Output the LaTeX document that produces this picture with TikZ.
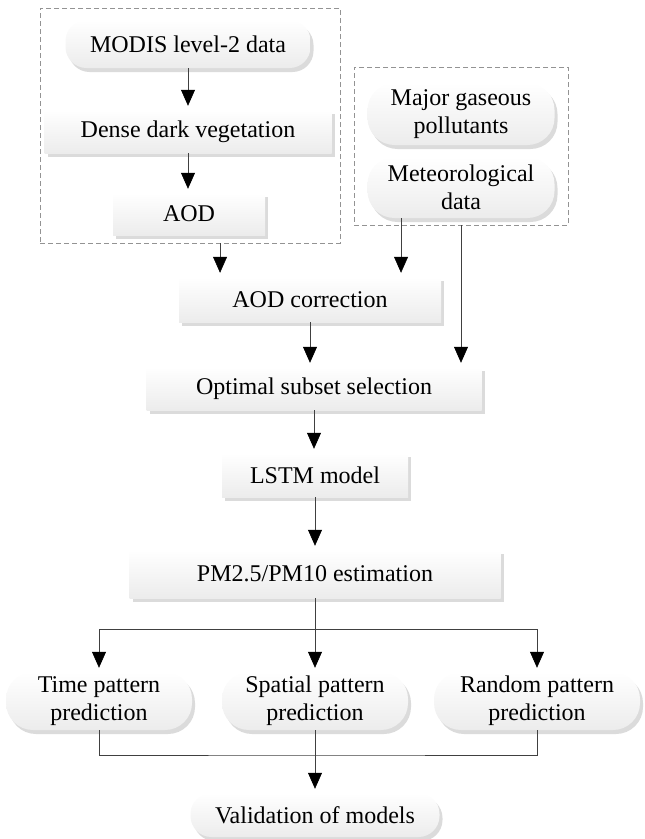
\documentclass[tikz,border=0pt]{standalone}
\usepackage{fontspec}
\setmainfont{Liberation Serif}
\usetikzlibrary{arrows.meta, shadows, calc}

\tikzset{
    block/.style={rectangle, inner sep=0pt, minimum height=44pt,
        top color=white, bottom color=gray!15,
        drop shadow={shadow xshift=3pt, shadow yshift=-4pt, fill=gray!28, opacity=1},
        font=\fontsize{24}{28}\selectfont, align=center},
    pill/.style={block, rounded corners=#1},
    pill/.default=21pt,
    group/.style={draw=gray!85, dash pattern=on 5pt off 3pt, inner sep=0pt},
    link/.style={draw=black!75, line width=0.6pt},
    arr/.style={link, -{Triangle[length=16pt, width=14pt, color=black]}, shorten >=4pt}
}

\begin{document}
\begin{tikzpicture}[x=1pt, y=1pt]
    \useasboundingbox (0,0) rectangle (645,-839);

    % input groups
    \node[group, minimum width=300pt, minimum height=235pt] (box1) at (190,-125.5) {};
    \node[group, minimum width=214pt, minimum height=158pt] (box2) at (461,-146) {};

    \node[pill, minimum width=245pt, minimum height=48pt] (modis) at (188,-44) {MODIS level-2 data};
    \node[block, minimum width=287pt, minimum height=43pt] (ddv) at (188,-131.5) {Dense dark vegetation};
    \node[block, minimum width=152pt, minimum height=42pt] (aod) at (189,-214) {AOD};

    \node[pill=27pt, minimum width=187pt, minimum height=62pt] (gas) at (461,-114) {Major gaseous\\pollutants};
    \node[pill=27pt, minimum width=187pt, minimum height=61pt] (meteo) at (461,-187.5) {Meteorological\\data};

    % main chain
    \node[block, minimum width=262pt, minimum height=45pt] (aodc) at (310,-299.5) {AOD correction};
    \node[block, minimum width=335pt, minimum height=43pt] (opt) at (314,-388.5) {Optimal subset selection};
    \node[block, minimum width=186pt, minimum height=44pt] (lstm) at (315,-475) {LSTM model};
    \node[block, minimum width=371pt, minimum height=48pt] (pm) at (315,-574) {PM2.5/PM10 estimation};

    % predictions
    \node[pill=27pt, minimum width=186pt, minimum height=58pt] (time) at (99,-701) {Time pattern\\prediction};
    \node[pill=27pt, minimum width=186pt, minimum height=58pt] (spatial) at (315,-701) {Spatial pattern\\prediction};
    \node[pill=27pt, minimum width=206pt, minimum height=58pt] (random) at (537,-701) {Random pattern\\prediction};
    \node[pill, minimum width=249pt, minimum height=44pt] (valid) at (315,-815) {Validation of models};

    \coordinate (a1) at ($(box1.south west)!0.6!(box1.south east)$);
    \coordinate (a2) at ($(meteo.south west)!0.18!(meteo.south east)$);
    \coordinate (j1) at (315,-629);
    \coordinate (j2) at (315,-755);

    \foreach \a/\b in {modis/ddv, ddv/aod, aodc/opt, opt/lstm, lstm/pm}
        \draw[arr] (\a.south) -- (\a.south |- \b.north);
    \draw[arr] (a1) -- (a1 |- aodc.north);
    \draw[arr] (a2) -- (a2 |- aodc.north);
    \draw[arr] (box2.south) -- (box2.south |- opt.north);

    \draw[link] (pm.south) -- (j1);
    \foreach \n in {time, spatial, random}
        \draw[arr] (j1) -| (\n.north);
    \draw[link] (time.south) |- (j2) -| (random.south);
    \draw[arr] (spatial.south) -- (valid.north);
\end{tikzpicture}
\end{document}
